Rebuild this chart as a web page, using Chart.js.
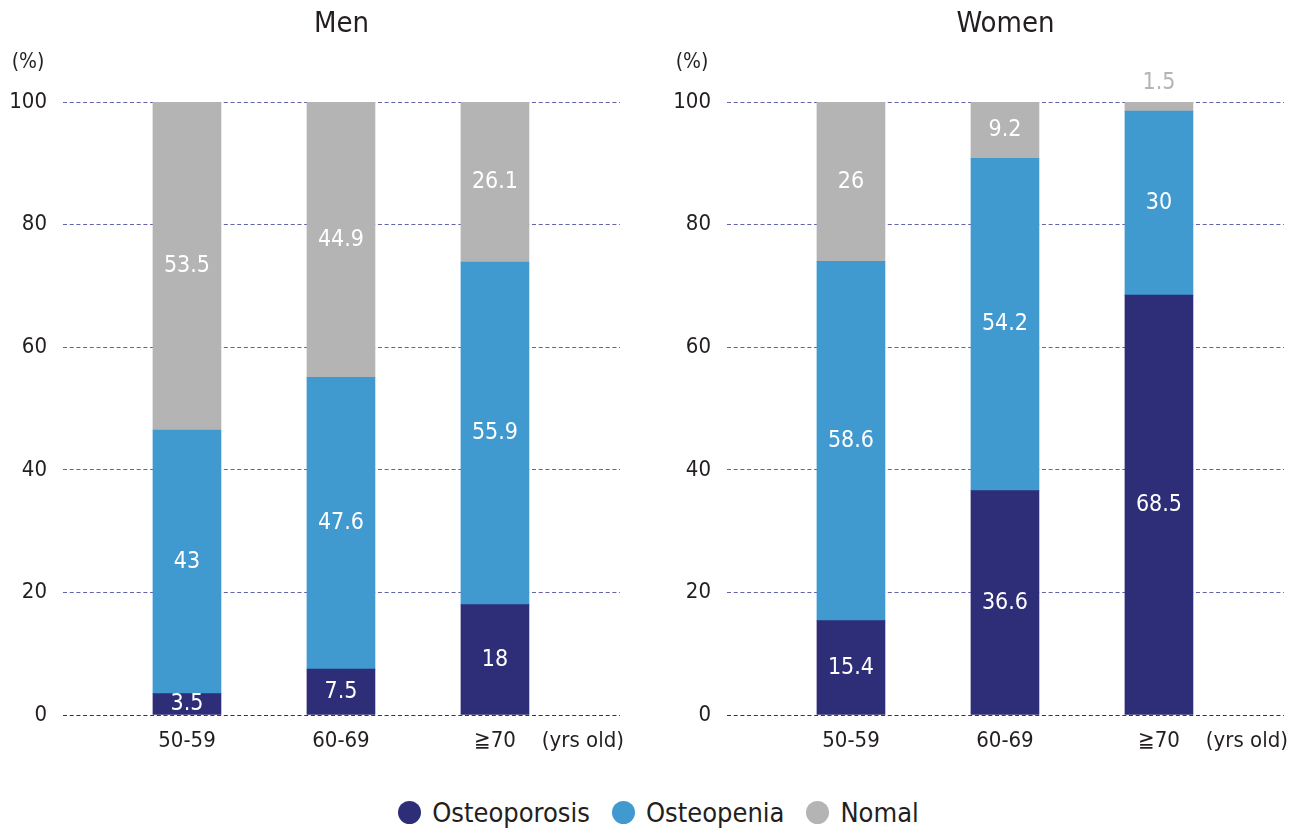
<!DOCTYPE html>
<html>
<head>
<meta charset="utf-8">
<title>Osteoporosis by age group</title>
<script src="https://cdn.jsdelivr.net/npm/chart.js@4.4.1/dist/chart.umd.min.js"></script>
<style>
  body { margin: 0; background: #fff; }
  .wrap { position: relative; width: 1289px; height: 831px; overflow: hidden;
          font-family: 'DejaVu Sans Condensed', Roboto, sans-serif; color: #231f20; }
  #men { position: absolute; left: 0; top: 0; }
  #women { position: absolute; left: 664px; top: 0; }
  .legend { position: absolute; left: 28px; right: 0; top: 797px; display: flex; justify-content: center; font-size: 27px; }
  .legend span { display: flex; align-items: center; margin: 0 11px; }
  .legend i { display: inline-block; width: 23px; height: 23px; border-radius: 50%; margin-right: 11px; }
</style>
</head>
<body>
<div class="wrap">
  <canvas id="men" width="625" height="770"></canvas>
  <canvas id="women" width="625" height="770"></canvas>
  <div class="legend" id="legend"></div>
</div>
<script>
const FONT = "'DejaVu Sans Condensed', Roboto, sans-serif";
const TEXT = '#231f20';

const categories = ['50-59', '60-69', '≧70'];
const unitLabel = '(yrs old)';
const seriesNames = ['Osteoporosis', 'Osteopenia', 'Nomal'];
const seriesColors = ['#2d2d78', '#409ad0', '#b4b4b4'];

const menOsteoporosis = [3.5, 7.5, 18];
const menOsteopenia = [43, 47.6, 55.9];
const menNormal = [53.5, 44.9, 26.1];

const womenOsteoporosis = [15.4, 36.6, 68.5];
const womenOsteopenia = [58.6, 54.2, 30];
const womenNormal = [26, 9.2, 1.5];

const yTicks = [0, 20, 40, 60, 80, 100];

// value labels inside each segment; thin segments get theirs above the bar
const barLabels = {
  id: 'barLabels',
  afterDatasetsDraw(chart) {
    const ctx = chart.ctx;
    ctx.save();
    ctx.font = '23px ' + FONT;
    ctx.textAlign = 'center';
    ctx.textBaseline = 'middle';
    chart.data.datasets.forEach((ds, i) => {
      chart.getDatasetMeta(i).data.forEach((bar, j) => {
        const v = ds.data[j].y;
        if (v < 3) {
          ctx.fillStyle = ds.backgroundColor;
          ctx.fillText(String(v), bar.x, bar.y - 19);
        } else {
          ctx.fillStyle = '#fff';
          ctx.fillText(String(v), bar.x, (bar.y + bar.base) / 2);
        }
      });
    });
    ctx.fillStyle = TEXT;
    ctx.font = '21px ' + FONT;
    ctx.fillText('(%)', chart.chartArea.left - 35, chart.chartArea.top - 39);
    ctx.restore();
  }
};

function makeChart(id, title, series) {
  new Chart(document.getElementById(id), {
    type: 'bar',
    data: {
      datasets: series.map((values, k) => ({
        label: seriesNames[k],
        data: values.map((v, i) => ({ x: i + 1, y: v })),
        backgroundColor: seriesColors[k],
        barThickness: 68,
      }))
    },
    options: {
      responsive: false,
      animation: false,
      layout: { padding: { top: 0, right: 5, left: 0, bottom: 0 } },
      plugins: {
        legend: { display: false },
        tooltip: { enabled: false },
        title: {
          display: true,
          text: title,
          fullSize: false,
          color: TEXT,
          font: { family: FONT, size: 29, weight: 'normal' },
          padding: { top: 7, bottom: 60.2 },
        },
      },
      scales: {
        x: {
          type: 'linear',
          stacked: true,
          offset: false,
          min: 0.195,
          max: 3.812,
          grid: { display: false, drawTicks: false, offset: false },
          border: { display: false },
          afterBuildTicks(scale) {
            scale.ticks = [1, 2, 3, 3.571].map(v => ({ value: v }));
          },
          ticks: {
            autoSkip: false,
            maxRotation: 0,
            padding: 13,
            color: TEXT,
            font: { family: FONT, size: 22 },
            callback: (v, i) => (i < categories.length ? categories[i] : unitLabel),
          },
          afterFit(scale) {
            scale.height = 55;
            // let the unit label run past the plot edge
            scale.paddingLeft = 0;
            scale.paddingRight = 0;
          },
        },
        y: {
          stacked: true,
          min: 0,
          max: 100,
          afterBuildTicks(scale) {
            scale.ticks = yTicks.map(v => ({ value: v }));
          },
          grid: {
            drawTicks: false,
            lineWidth: 1,
            color: c => (c.tick && c.tick.value === 0 ? '#2e2e7a' : '#6262ad'),
          },
          border: { display: false, dash: [4, 2.7] },
          ticks: { padding: 16, color: TEXT, font: { family: FONT, size: 22 } },
          afterFit(scale) { scale.width = 63; },
        },
      },
    },
    plugins: [barLabels],
  });
}

makeChart('men', 'Men', [menOsteoporosis, menOsteopenia, menNormal]);
makeChart('women', 'Women', [womenOsteoporosis, womenOsteopenia, womenNormal]);

document.getElementById('legend').innerHTML = seriesNames
  .map((n, k) => '<span><i style="background:' + seriesColors[k] + '"></i>' + n + '</span>')
  .join('');
</script>
</body>
</html>
